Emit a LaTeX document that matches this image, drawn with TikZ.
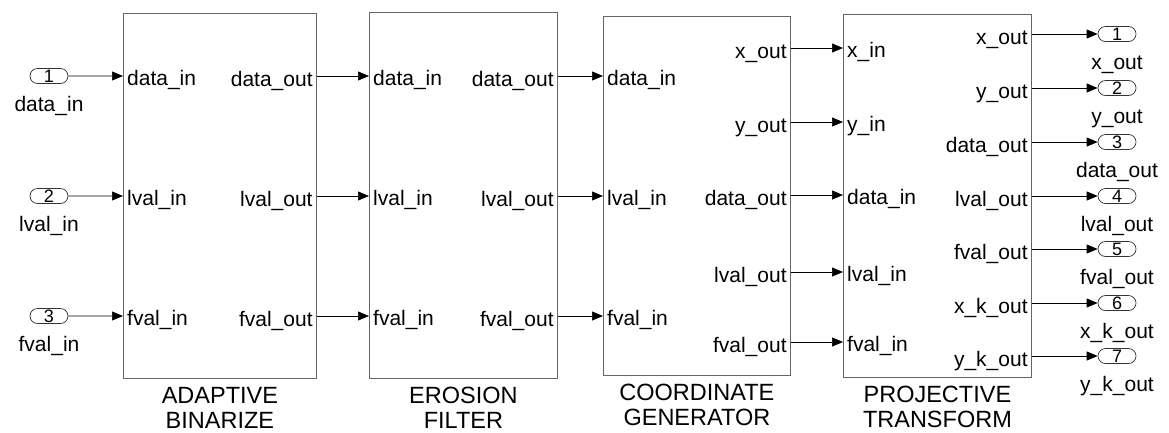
\documentclass[tikz,border=0pt]{standalone}
\usepackage{fontspec}
\setmainfont{Liberation Sans}
\usetikzlibrary{arrows.meta,positioning,shapes.misc}
\tikzset{>={Triangle[length=11pt,width=9pt]}}

\begin{document}
\begin{tikzpicture}[
    x=1pt, y=-1pt,
    block/.style={rectangle, draw=black!60, line width=0.8pt, anchor=north west, inner sep=0pt},
    title/.style={align=center, inner sep=0pt, font=\fontsize{23.5}{25}\selectfont},
    inlbl/.style={anchor=base west, inner sep=0pt, xshift=4pt, yshift=-9pt, font=\fontsize{21}{24}\selectfont},
    outlbl/.style={anchor=base east, inner sep=0pt, xshift=-4pt, yshift=-10pt, font=\fontsize{21}{24}\selectfont},
    extport/.style={rounded rectangle, draw=black!80, line width=0.7pt, minimum width=38pt, minimum height=15pt,
        inner sep=0pt, font=\fontsize{18}{18}\selectfont},
    extlbl/.style={inner sep=0pt, text height=15pt, text depth=4pt, font=\fontsize{21}{24}\selectfont},
    wire/.style={->, line width=0.7pt}
]
    \useasboundingbox (0,0) rectangle (1169,432);

    % processing stages
    \node[block, minimum width=193pt, minimum height=365pt] (binarize) at (123,13) {};
    \node[block, minimum width=188pt, minimum height=366pt] (erosion) at (369,12) {};
    \node[block, minimum width=187pt, minimum height=359pt] (coordgen) at (603,16) {};
    \node[block, minimum width=188pt, minimum height=363pt] (projective) at (843,14) {};

    \node[title, below=8pt of binarize] {ADAPTIVE\\BINARIZE};
    \node[title, below=8pt of erosion] {EROSION\\FILTER};
    \node[title, below=8pt of coordgen] {COORDINATE\\GENERATOR};
    \node[title, below=8pt of projective] {PROJECTIVE\\TRANSFORM};

    % block ports
    \foreach \b in {binarize,erosion,coordgen}
        \foreach \y/\n/\t in {76/d/data, 196/l/lval, 316/f/fval} {
            \coordinate (\b-\n-in) at (\b.west |- 0,\y);
            \node[inlbl] at (\b-\n-in) {\t\_in};
        }
    \foreach \b in {binarize,erosion}
        \foreach \y/\n/\t in {76/d/data, 196/l/lval, 316/f/fval} {
            \coordinate (\b-\n-out) at (\b.east |- 0,\y);
            \node[outlbl] at (\b-\n-out) {\t\_out};
        }
    \foreach \y/\n/\t in {48/x/x, 122/y/y, 195/d/data, 272/l/lval, 342/f/fval} {
        \coordinate (coordgen-\n-out) at (coordgen.east |- 0,\y);
        \node[outlbl] at (coordgen-\n-out) {\t\_out};
        \coordinate (projective-\n-in) at (projective.west |- 0,\y);
        \node[inlbl] at (projective-\n-in) {\t\_in};
    }
    \foreach \y/\i/\t in {34/1/x, 88/2/y, 142/3/data, 196/4/lval, 249/5/fval, 303/6/x\_k, 356/7/y\_k} {
        \coordinate (projective-\i-out) at (projective.east |- 0,\y);
        \node[outlbl] at (projective-\i-out) {\t\_out};
        \node[extport] (out\i) at (1117,\y) {\i};
        \node[extlbl, below=12pt of out\i] {\t\_out};
    }

    % model inputs
    \node[extport] (in1) at (49,76) {1};
    \node[extport] (in2) at (49,196) {2};
    \node[extport] (in3) at (49,316) {3};
    \node[extlbl, below=12pt of in1] {data\_in};
    \node[extlbl, below=12pt of in2] {lval\_in};
    \node[extlbl, below=12pt of in3] {fval\_in};

    % signal lines
    \foreach \n/\i in {d/1, l/2, f/3}
        \draw[wire] (in\i) -- (binarize-\n-in);
    \foreach \n in {d,l,f} {
        \draw[wire] (binarize-\n-out) -- (erosion-\n-in);
        \draw[wire] (erosion-\n-out) -- (coordgen-\n-in);
    }
    \foreach \n in {x,y,d,l,f}
        \draw[wire] (coordgen-\n-out) -- (projective-\n-in);
    \foreach \i in {1,...,7}
        \draw[wire] (projective-\i-out) -- (out\i);
\end{tikzpicture}
\end{document}
